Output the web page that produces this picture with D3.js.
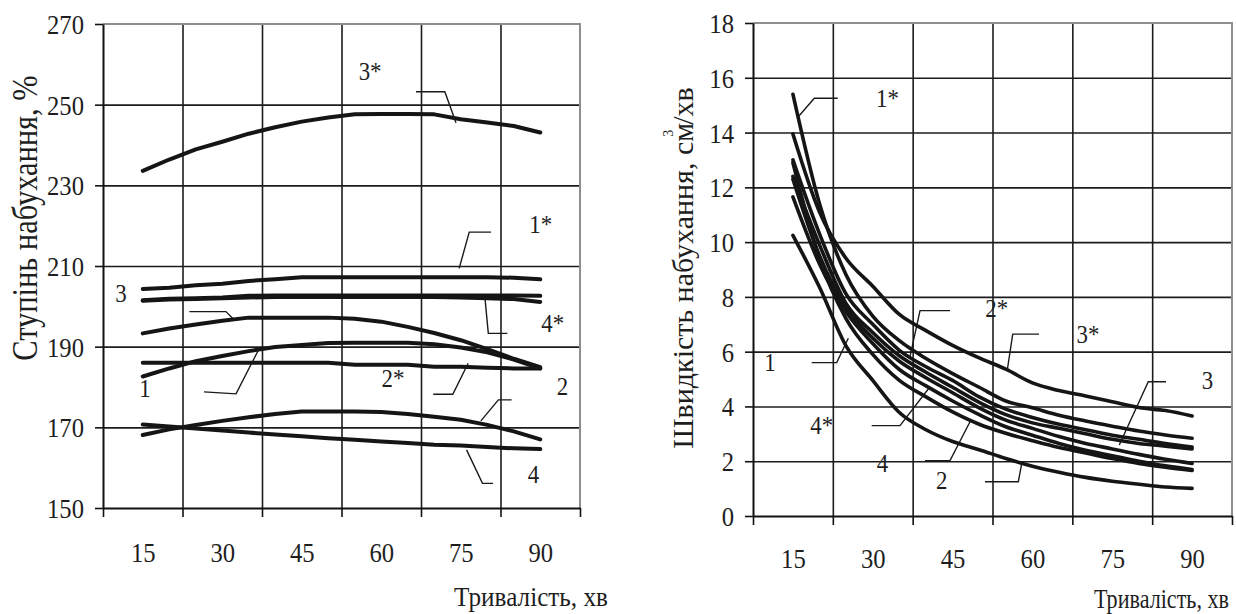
<!DOCTYPE html>
<html><head><meta charset="utf-8">
<script src="https://cdn.jsdelivr.net/npm/d3@7"></script>
<style>
body{margin:0;background:#fff}
svg{display:block}
text{font-family:"Liberation Serif","Times New Roman",serif;fill:#1e1e1e}
</style>
</head><body>
<svg id="c" width="1236" height="614"></svg>
<script>
// ---------- data ----------
const times = [15,20,25,30,35,40,45,50,55,60,65,70,75,80,85,90];
const xTickLabels = [15,30,45,60,75,90];
const xBounds = [7.5,22.5,37.5,52.5,67.5,82.5,97.5];
const degTicks = [150,170,190,210,230,250,270];
const rateTicks = [0,2,4,6,8,10,12,14,16,18];

// left chart: ступінь набухання, %
const deg3s = [233.6,236.4,238.9,240.8,242.8,244.4,245.8,246.8,247.6,247.7,247.7,247.6,246.4,245.6,244.7,243.1];
const deg1s = [204.3,204.6,205.2,205.6,206.3,206.7,207.2,207.2,207.2,207.2,207.2,207.2,207.2,207.2,207.1,206.7];
const deg3  = [201.5,201.9,202.0,202.2,202.6,202.7,202.7,202.7,202.7,202.7,202.7,202.7,202.7,202.7,202.7,202.6];
const deg4s = [201.4,201.7,201.8,202.0,202.2,202.3,202.3,202.3,202.3,202.3,202.3,202.3,202.2,202.0,201.8,201.1];
const deg5  = [193.3,194.5,195.5,196.4,197.2,197.2,197.2,197.2,196.9,196.2,194.9,193.4,191.6,189.4,187.0,184.9];
const deg1  = [182.6,184.6,186.4,187.7,188.9,189.9,190.4,190.9,191.0,191.0,191.0,190.6,189.8,188.6,186.8,184.6];
const deg2s = [186.0,186.0,186.0,186.0,186.0,186.0,186.0,186.0,185.5,185.5,185.5,185.0,185.0,184.8,184.6,184.6];
const deg2  = [168.1,169.5,170.6,171.6,172.5,173.3,173.9,173.9,173.9,173.8,173.3,172.6,171.9,170.6,169.0,167.0];
const deg4  = [170.7,170.2,169.7,169.2,168.7,168.2,167.8,167.3,166.9,166.5,166.1,165.7,165.5,165.1,164.8,164.6];

// right chart: швидкість набухання, см3/хв
const rate3s = [13.95,11.1,9.4,8.39,7.36,6.77,6.23,5.77,5.36,4.86,4.58,4.38,4.17,3.96,3.85,3.65];
const rate1s = [15.4,11.4,8.8,7.3,6.4,5.75,5.2,4.7,4.2,3.95,3.68,3.47,3.28,3.1,2.96,2.84];
const rate2s = [13.0,10.3,8.1,7.0,6.05,5.45,4.95,4.35,3.9,3.6,3.35,3.15,2.95,2.8,2.65,2.52];
const rate1  = [12.4,9.9,7.75,6.7,5.85,5.25,4.7,4.15,3.7,3.4,3.2,3.0,2.8,2.65,2.55,2.45];
const rate3  = [12.3,9.5,7.6,6.5,5.65,5.05,4.5,3.95,3.5,3.2,2.9,2.65,2.45,2.25,2.07,1.92];
const rate4s = [11.65,9.2,7.45,6.3,5.35,4.75,4.2,3.7,3.26,2.95,2.65,2.4,2.2,2.0,1.83,1.70];
const rate4  = [12.9,9.4,7.2,5.9,4.95,4.35,3.8,3.35,3.02,2.75,2.5,2.3,2.1,1.92,1.78,1.66];
const rate2  = [10.25,8.35,6.2,4.95,3.78,3.15,2.72,2.42,2.1,1.82,1.6,1.41,1.27,1.16,1.06,1.01];

// curve labels (data units) and leader lines
const labelsL = [["3*",57.9,258.1],["1*",90.1,220.3],["3",10.9,203.3],["4*",92.35,195.8],["1",15.4,179.7],["2*",62.2,182.2],["2",94.2,180.1],["4",88.7,158.4]];
const leadersL = [
  [[66.56,253.2],[72.0,253.2],[74.1,245.5]],
  [[80.7,218.4],[76.6,218.4],[74.7,209.4]],
  [[79.6,201.6],[80.2,193.3],[83.8,193.3]],
  [[23.8,198.7],[30.7,198.7],[32.0,197.0]],
  [[26.56,178.8],[32.6,178.3],[37.0,189.6]],
  [[69.8,178.2],[73.5,178.2],[76.4,185.9]],
  [[78.8,171.6],[82.1,176.8],[84.6,176.8]],
  [[76.1,164.4],[79.1,156.1],[81.1,156.1]]
];
const labelsR = [["1*",32.77,15.26],["2*",53.29,7.59],["3*",70.44,6.64],["3",92.9,4.93],["1",10.69,5.62],["4*",20.41,3.32],["4",31.83,1.90],["2",42.95,1.28]];
const leadersR = [
  [[23.41,15.25],[19.02,15.25],[16.01,14.58]],
  [[44.52,7.50],[38.88,7.50],[37.0,5.82]],
  [[61.24,6.64],[56.30,6.64],[55.28,5.33]],
  [[18.53,5.60],[23.23,5.60],[25.41,6.49]],
  [[29.80,3.30],[35.12,3.30],[40.76,4.72]],
  [[39.82,2.02],[44.52,2.02],[48.27,3.44]],
  [[51.09,1.25],[57.35,1.25],[57.99,1.92]],
  [[85.10,4.90],[81.77,4.90],[76.32,2.59]]
];

const seriesL = [deg3s,deg1s,deg3,deg4s,deg5,deg1,deg2s,deg2,deg4];
const seriesR = [rate3s,rate1s,rate2s,rate1,rate3,rate4s,rate4,rate2];

// ---------- drawing ----------
const svg = d3.select("#c");
const SX = 0.88;

function panel(cfg){
  const x = d3.scaleLinear().domain([xBounds[0], xBounds[xBounds.length-1]]).range([cfg.x0,cfg.x1]);
  const y = d3.scaleLinear().domain([cfg.ticks[0], cfg.ticks[cfg.ticks.length-1]]).range([cfg.y1,cfg.y0]);
  const g = svg.append("g");
  const W = cfg.x1-cfg.x0, H = cfg.y1-cfg.y0;

  g.append("g").attr("transform",`translate(${cfg.x0},0)`)
    .call(d3.axisLeft(y).tickValues(cfg.ticks.slice(1,-1)).tickSize(-W).tickFormat(""))
    .call(a=>{a.select(".domain").remove();a.selectAll("line").attr("stroke","#1c1c1c").attr("stroke-width",1.6);});
  g.append("g").attr("transform",`translate(0,${cfg.y1})`)
    .call(d3.axisBottom(x).tickValues(xBounds.slice(1,-1)).tickSize(-H).tickFormat(""))
    .call(a=>{a.select(".domain").remove();a.selectAll("line").attr("stroke","#1c1c1c").attr("stroke-width",1.6);});
  const top = cfg.ticks[cfg.ticks.length-1], bot = cfg.ticks[0];
  g.append("path")
    .attr("d",`M${x(xBounds[0])},${y(top)}H${x(xBounds[xBounds.length-1])}V${y(bot)}`)
    .attr("fill","none").attr("stroke","#8e8e8e").attr("stroke-width",2);

  g.append("g").attr("transform",`translate(${cfg.x0},0)`)
    .call(d3.axisLeft(y).tickValues(cfg.ticks).tickSize(8).tickSizeOuter(0))
    .call(a=>{
      a.select(".domain").attr("stroke","#111").attr("stroke-width",2);
      a.selectAll(".tick line").attr("stroke","#111").attr("stroke-width",1.6);
      a.selectAll(".tick text").attr("x",0).attr("dy",null).attr("y",0)
        .attr("transform",`translate(-19,9.5) scale(${SX},1)`)
        .attr("font-size",28).attr("fill","#1e1e1e")
        .attr("font-family",'"Liberation Serif","Times New Roman",serif');
    });
  g.append("g").attr("transform",`translate(0,${cfg.y1})`)
    .call(d3.axisBottom(x).tickValues(xBounds).tickSize(9).tickSizeOuter(0).tickFormat(""))
    .call(a=>{
      a.select(".domain").attr("stroke","#111").attr("stroke-width",2);
      a.selectAll(".tick line").attr("stroke","#111").attr("stroke-width",1.6);
    });
  g.append("g").attr("transform",`translate(0,${cfg.y1})`)
    .call(d3.axisBottom(x).tickValues(xTickLabels).tickSize(0))
    .call(a=>{
      a.select(".domain").remove();
      a.selectAll(".tick text").attr("y",0).attr("dy",null)
        .attr("transform",`translate(0,${cfg.xLabGap}) scale(${SX},1)`)
        .attr("font-size",28).attr("fill","#1e1e1e")
        .attr("font-family",'"Liberation Serif","Times New Roman",serif');
    });

  const line = d3.line().x((d,i)=>x(times[i])).y(d=>y(d)).curve(cfg.curve);
  g.append("g").selectAll("path").data(cfg.series).join("path")
    .attr("d",line).attr("fill","none").attr("stroke","#151515")
    .attr("stroke-width",cfg.lw).attr("stroke-linecap","round").attr("stroke-linejoin","round");

  const lead = d3.line().x(d=>x(d[0])).y(d=>y(d[1]));
  g.append("g").selectAll("path").data(cfg.leaders).join("path")
    .attr("d",lead).attr("fill","none").attr("stroke","#1a1a1a").attr("stroke-width",1.4);

  g.append("g").selectAll("g").data(cfg.labels).join("g")
    .attr("transform",d=>`translate(${x(d[1])},${y(d[2])+8.5}) scale(${SX},1)`)
    .append("text").attr("text-anchor","middle").attr("font-size",26).text(d=>d[0]);
  return {x,y,g};
}

panel({x0:103,x1:580,y0:24,y1:508,ticks:degTicks,series:seriesL,leaders:leadersL,labels:labelsL,
  curve:d3.curveLinear,lw:4,xLabGap:54});
panel({x0:753,x1:1232,y0:23,y1:516,ticks:rateTicks,series:seriesR,leaders:leadersR,labels:labelsR,
  curve:d3.curveMonotoneX,lw:3.6,xLabGap:52});

// axis titles
svg.append("g").attr("transform","translate(37,218) rotate(-90) scale(0.87,1)")
  .append("text").attr("text-anchor","middle").attr("font-size",35).text("Ступінь набухання, %");

const rt = svg.append("g").attr("transform","translate(693,268) rotate(-90)")
  .append("text").attr("text-anchor","middle").attr("font-size",30);
rt.append("tspan").text("Швидкість набухання, см");
rt.append("tspan").attr("font-size",14).attr("dx",-14).attr("dy",-20).text("3");
rt.append("tspan").attr("dx",5).attr("dy",20).text("/хв");

svg.append("g").attr("transform","translate(531,606) scale(0.9,1)")
  .append("text").attr("text-anchor","middle").attr("font-size",28).text("Тривалість, хв");
svg.append("g").attr("transform","translate(1229,608) scale(0.82,1)")
  .append("text").attr("text-anchor","end").attr("font-size",27).text("Тривалість, хв");
</script>
</body></html>
